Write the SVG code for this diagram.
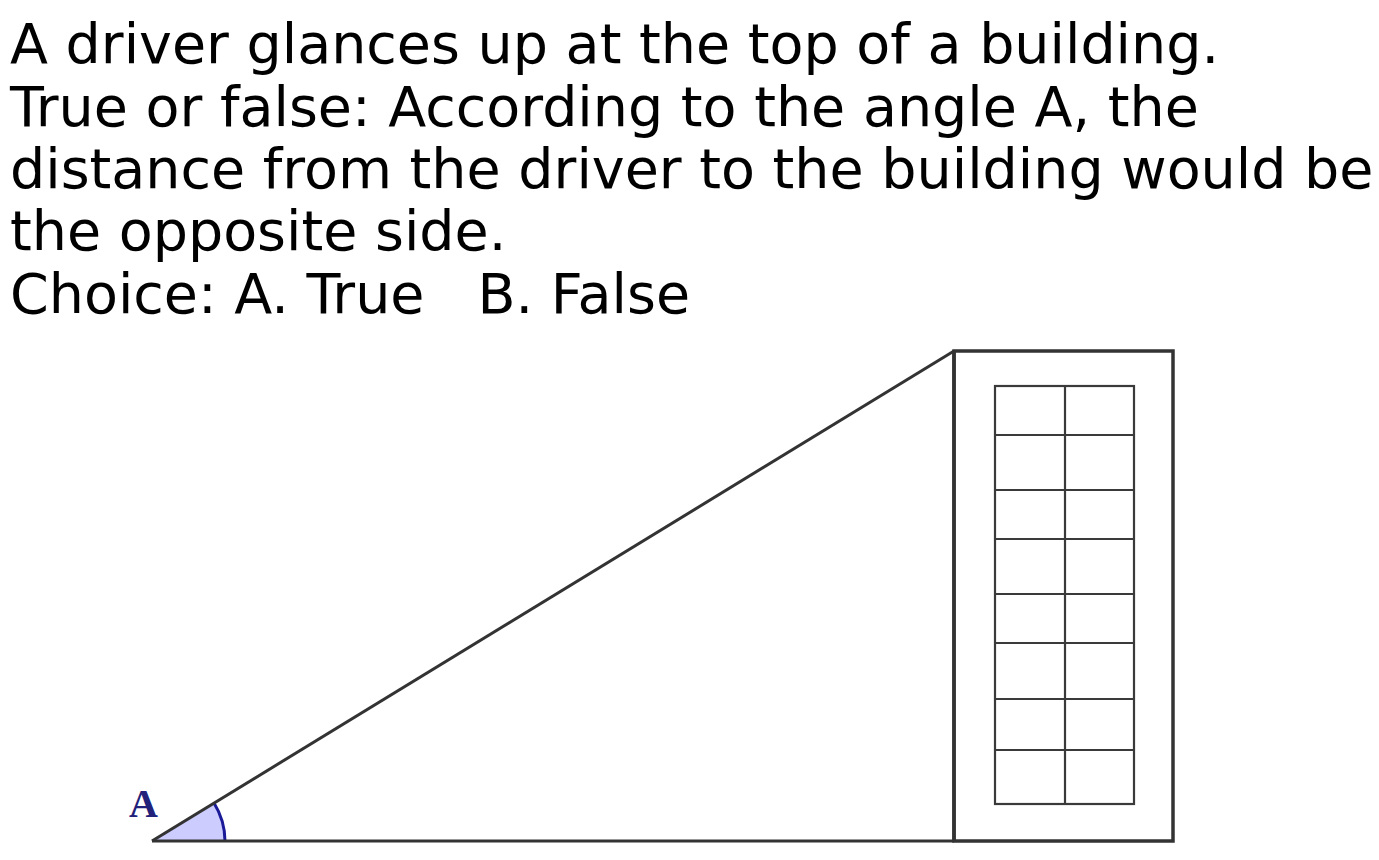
<svg xmlns="http://www.w3.org/2000/svg" width="1379" height="860" viewBox="0 0 1379 860">
<style>
.q{font-family:"DejaVu Sans",sans-serif;font-size:55.5px;fill:#000;white-space:pre}
.edge{stroke:#333;stroke-width:3;fill:none}
.wall{stroke:#333;stroke-width:3.5;fill:none}
.grid{stroke:#3a3a3a;stroke-width:2.2;fill:none}
.lbl{font-family:"Liberation Serif",serif;font-weight:bold;font-size:40px;fill:#22227a}
</style>
<rect width="1379" height="860" fill="#fff"/>
<g id="question">
<text class="q" x="10" y="63">A driver glances up at the top of a building.</text>
<text class="q" x="10" y="126">True or false: According to the angle A, the</text>
<text class="q" x="10" y="188">distance from the driver to the building would be</text>
<text class="q" x="10" y="250">the opposite side.</text>
<text class="q" x="10" y="313" xml:space="preserve">Choice: A. True   B. False</text>
</g>
<g id="angle">
<path d="M152,841 L225,841 A73,73 0 0 0 214,803 Z" fill="#ccccff" stroke="none"/>
<path d="M225,841 A73,73 0 0 0 214,803" stroke="#1a1a99" stroke-width="3" fill="none"/>
<text class="lbl" x="129" y="817">A</text>
</g>
<g id="triangle">
<path class="edge" d="M152,841 L954,351"/>
<path class="edge" d="M152,841 L954,841"/>
</g>
<g id="building">
<rect class="wall" x="954" y="351" width="219" height="490"/>
<line class="wall" x1="954" y1="351" x2="954" y2="841" stroke-width="4.5"/>
<rect class="grid" x="995" y="386" width="139" height="418"/>
<line class="grid" x1="1065" y1="386" x2="1065" y2="804"/>
<line class="grid" x1="995" y1="435" x2="1134" y2="435"/>
<line class="grid" x1="995" y1="490" x2="1134" y2="490"/>
<line class="grid" x1="995" y1="539" x2="1134" y2="539"/>
<line class="grid" x1="995" y1="594" x2="1134" y2="594"/>
<line class="grid" x1="995" y1="643" x2="1134" y2="643"/>
<line class="grid" x1="995" y1="699" x2="1134" y2="699"/>
<line class="grid" x1="995" y1="750" x2="1134" y2="750"/>
</g>
</svg>
